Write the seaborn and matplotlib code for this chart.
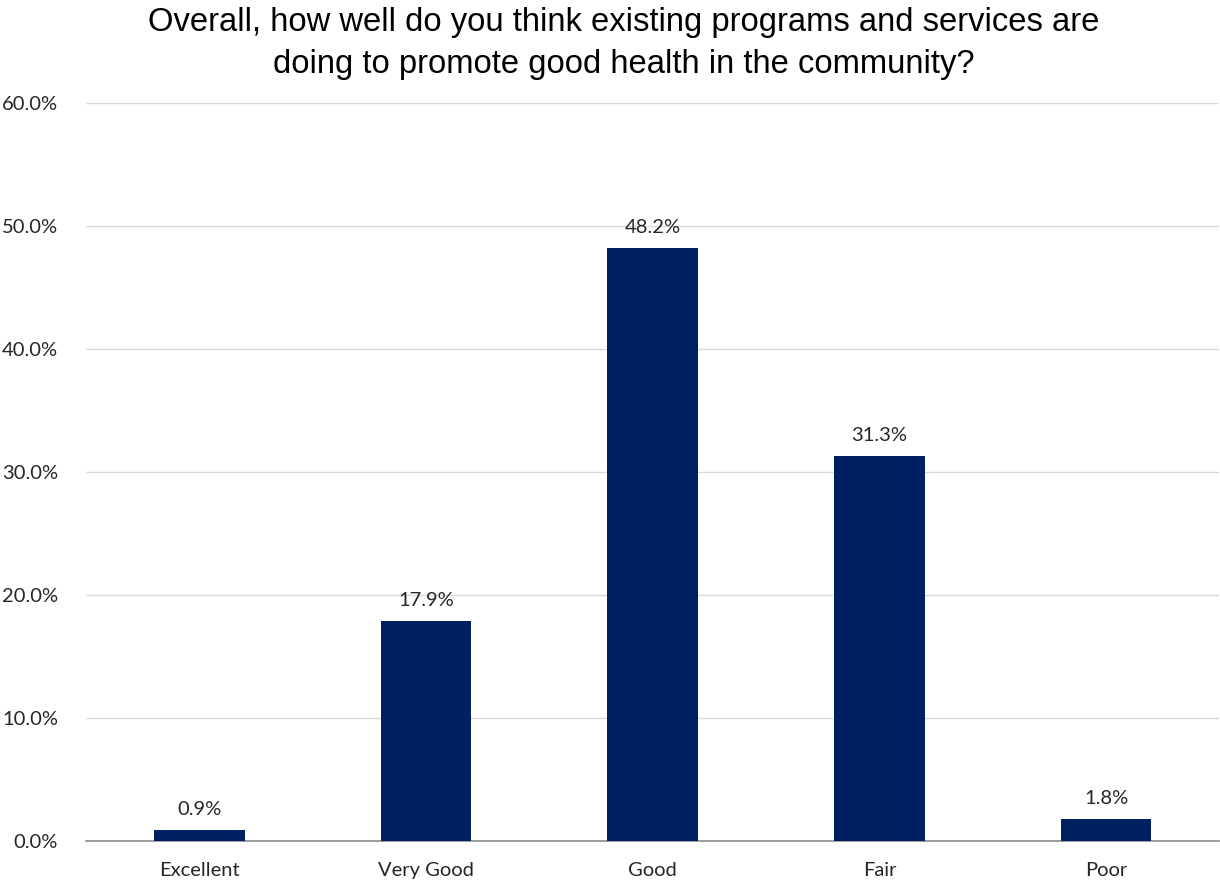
import numpy as np
import pandas as pd
import matplotlib
matplotlib.use("Agg")
import matplotlib.pyplot as plt
import seaborn as sns
from matplotlib.ticker import PercentFormatter, FixedLocator

categories = ["Excellent", "Very Good", "Good", "Fair", "Poor"]
shares = [0.9, 17.9, 48.2, 31.3, 1.8]
title = "Overall, how well do you think existing programs and services are\ndoing to promote good health in the community?"

df = pd.DataFrame({"rating": categories, "pct": shares})

sns.set_style("white")
plt.rcParams["font.family"] = ["Lato", "DejaVu Sans"]

fig = plt.figure(figsize=(12.2, 8.84), dpi=100)
ax = fig.add_axes([0.0705, 0.0486, 0.929, 0.8349])

sns.barplot(data=df, x="rating", y="pct", color="#002060", width=0.4,
            saturation=1, linewidth=0, ax=ax, zorder=3)

for i, v in enumerate(shares):
    ax.text(i, v + 1.0, f"{v:.1f}%", ha="center", va="bottom",
            fontsize=14.5, color="#262626")

ax.set_ylim(0, 60)
ax.set_xlim(-0.5, 4.5)
ax.set_yticks(np.arange(0, 61, 10))
ax.yaxis.set_major_formatter(PercentFormatter(decimals=1))
ax.grid(axis="y", color="#D9D9D9", linewidth=1, zorder=0)
ax.set_xlabel("")
ax.set_ylabel("")

for side in ["top", "right", "left"]:
    ax.spines[side].set_visible(False)
ax.spines["bottom"].set_color("#8C8C8C")
ax.spines["bottom"].set_linewidth(1.2)

ax.tick_params(axis="y", length=0, labelsize=14.5, labelcolor="#262626", pad=20)
ax.tick_params(axis="x", which="major", length=0, labelsize=14.5,
               labelcolor="#262626", pad=15)
ax.xaxis.set_minor_locator(FixedLocator(np.arange(-0.5, 5, 1.0)))
ax.tick_params(axis="x", which="minor", length=6, width=1.2,
               color="#8C8C8C", direction="out")

fig.text(0.511, 0.992, title, ha="center", va="top", fontsize=23.6,
         family=["Liberation Sans", "DejaVu Sans"], color="black",
         linespacing=1.45)

fig.savefig("out.png", dpi=100)
